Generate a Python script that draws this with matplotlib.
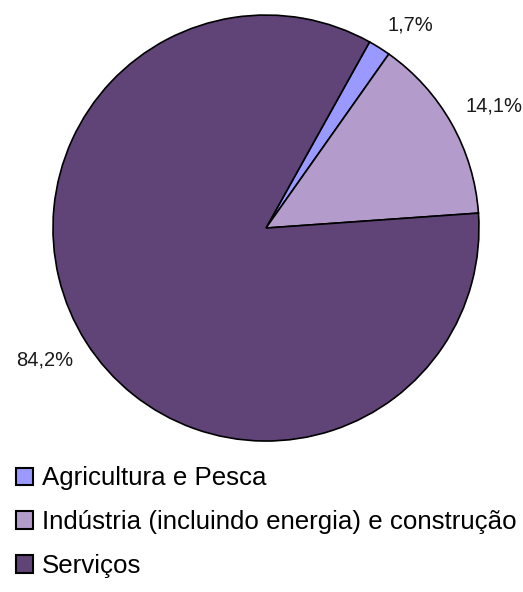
import numpy as np
import matplotlib.pyplot as plt
from matplotlib.patches import Patch

plt.rcParams["font.family"] = ["Liberation Sans", "DejaVu Sans"]

sectors = ["Agricultura e Pesca", "Indústria (incluindo energia) e construção", "Serviços"]
shares = [1.7, 14.1, 84.2]
share_labels = ["1,7%", "14,1%", "84,2%"]
colors = ["#9999ff", "#b39ccb", "#604478"]

fig = plt.figure(figsize=(5.23, 5.92), dpi=100)
ax = fig.add_axes([0.1013, 0.255, 0.8145, 0.7196])

wedges, _ = ax.pie(shares, colors=colors, startangle=60.9, counterclock=False,
                   radius=1.0, wedgeprops={"edgecolor": "black", "linewidth": 1.2})
ax.set_xlim(-1, 1)
ax.set_ylim(-1, 1)
ax.set_aspect("equal")
ax.axis("off")

# percentage labels: the corner of the text nearest the pie sits on a ring just outside it
for w, txt in zip(wedges, share_labels):
    mid = np.deg2rad((w.theta1 + w.theta2) / 2)
    cx, cy = np.cos(mid), np.sin(mid)
    r = 1.075
    ax.text(r * cx, r * cy, txt,
            ha="left" if cx > 0 else "right", va="bottom" if cy > 0 else "top",
            fontsize=14.5, color="#1a1a1a", clip_on=False)

handles = [Patch(facecolor=c, edgecolor="black", linewidth=1.5) for c in colors]
fig.legend(handles, sectors, loc="upper left", bbox_to_anchor=(0.03, 0.212),
           frameon=False, fontsize=18.6, handlelength=0.68, handleheight=0.68,
           handletextpad=0.35, labelspacing=0.76, borderpad=0, borderaxespad=0)

fig.savefig("out.png", dpi=100)
